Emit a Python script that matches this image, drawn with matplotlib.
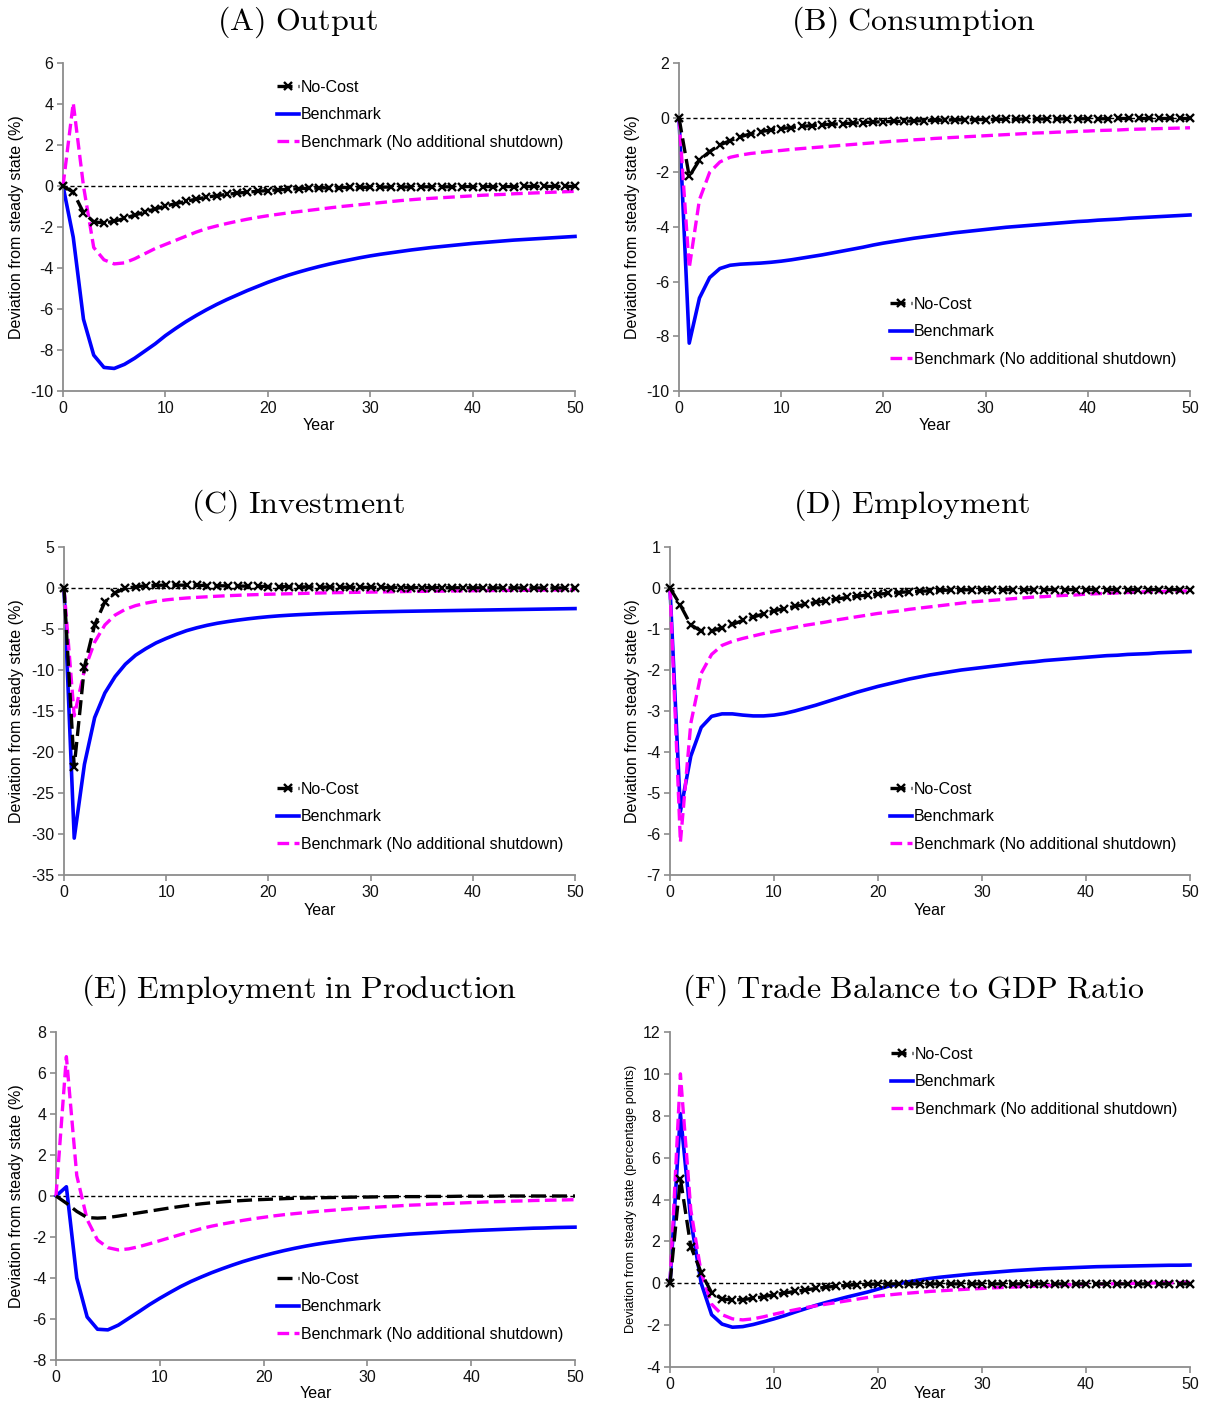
import numpy as np
import matplotlib.pyplot as plt

plt.rcParams['font.family'] = ['Liberation Sans', 'DejaVu Sans']
plt.rcParams['mathtext.fontset'] = 'cm'
plt.rcParams['axes.unicode_minus'] = False

years = list(range(51))

# (A) Output
out_nocost = [0, -0.3, -1.3, -1.75, -1.8, -1.72, -1.58, -1.42, -1.27, -1.12, -0.98, -0.86, -0.75, -0.64, -0.55,
              -0.47, -0.41, -0.35, -0.3, -0.26, -0.22, -0.19, -0.16, -0.13, -0.11, -0.1, -0.09, -0.08, -0.07, -0.07,
              -0.06, -0.06, -0.05, -0.05, -0.05, -0.04, -0.04, -0.04, -0.04, -0.03, -0.03, -0.03, -0.03, -0.03, -0.03,
              -0.02, -0.02, -0.02, -0.02, -0.02, -0.02]
out_bench = [0, -2.5, -6.5, -8.25, -8.85, -8.9, -8.7, -8.4, -8.05, -7.7, -7.3, -6.95, -6.62, -6.32, -6.04,
             -5.78, -5.54, -5.32, -5.1, -4.9, -4.7, -4.52, -4.35, -4.2, -4.06, -3.93, -3.81, -3.7, -3.6, -3.5,
             -3.41, -3.33, -3.26, -3.19, -3.12, -3.06, -3.0, -2.95, -2.9, -2.85, -2.8, -2.76, -2.72, -2.68, -2.64,
             -2.61, -2.58, -2.55, -2.52, -2.49, -2.46]
out_noshut = [0, 4.05, 0.0, -3.0, -3.6, -3.8, -3.75, -3.55, -3.3, -3.05, -2.85, -2.65, -2.45, -2.25, -2.08,
              -1.95, -1.83, -1.72, -1.62, -1.53, -1.45, -1.38, -1.31, -1.25, -1.19, -1.13, -1.07, -1.01, -0.96, -0.91,
              -0.86, -0.81, -0.76, -0.71, -0.67, -0.63, -0.6, -0.57, -0.54, -0.51, -0.48, -0.45, -0.43, -0.41, -0.38,
              -0.36, -0.34, -0.32, -0.3, -0.28, -0.26]

# (B) Consumption
con_nocost = [0, -2.15, -1.55, -1.24, -1.0, -0.84, -0.7, -0.59, -0.51, -0.45, -0.4, -0.36, -0.32, -0.29, -0.26,
              -0.24, -0.22, -0.2, -0.18, -0.16, -0.15, -0.14, -0.13, -0.12, -0.11, -0.1, -0.09, -0.08, -0.08, -0.07,
              -0.07, -0.06, -0.06, -0.06, -0.05, -0.05, -0.05, -0.05, -0.04, -0.04, -0.04, -0.04, -0.04, -0.03, -0.03,
              -0.03, -0.03, -0.03, -0.03, -0.03, -0.03]
con_bench = [0, -8.25, -6.6, -5.85, -5.52, -5.4, -5.36, -5.34, -5.32, -5.29, -5.25, -5.2, -5.14, -5.08, -5.02,
             -4.95, -4.88, -4.81, -4.74, -4.66, -4.59, -4.53, -4.47, -4.41, -4.36, -4.31, -4.26, -4.21, -4.17, -4.13,
             -4.09, -4.05, -4.01, -3.98, -3.95, -3.92, -3.89, -3.86, -3.83, -3.8, -3.78, -3.75, -3.73, -3.71, -3.68,
             -3.66, -3.64, -3.62, -3.6, -3.58, -3.56]
con_noshut = [0, -5.5, -3.0, -2.0, -1.62, -1.45, -1.37, -1.31, -1.27, -1.23, -1.2, -1.16, -1.13, -1.1, -1.07,
              -1.04, -1.01, -0.98, -0.95, -0.92, -0.89, -0.86, -0.84, -0.81, -0.79, -0.76, -0.74, -0.72, -0.7, -0.68,
              -0.66, -0.64, -0.62, -0.6, -0.58, -0.56, -0.55, -0.53, -0.52, -0.5, -0.49, -0.47, -0.46, -0.45, -0.43,
              -0.42, -0.41, -0.4, -0.39, -0.38, -0.37]

# (C) Investment
inv_nocost = [0, -21.8, -9.6, -4.5, -1.7, -0.57, -0.05, 0.15, 0.27, 0.33, 0.35, 0.35, 0.34, 0.32, 0.3,
              0.28, 0.26, 0.24, 0.22, 0.2, 0.18, 0.17, 0.15, 0.14, 0.13, 0.12, 0.11, 0.1, 0.09, 0.08,
              0.08, 0.07, 0.06, 0.06, 0.05, 0.05, 0.04, 0.04, 0.03, 0.03, 0.03, 0.02, 0.02, 0.02, 0.02,
              0.01, 0.01, 0.01, 0.01, 0.01, 0.0]
inv_bench = [0, -30.5, -21.5, -15.8, -12.8, -10.8, -9.3, -8.2, -7.4, -6.7, -6.15, -5.65, -5.2, -4.85, -4.55,
             -4.3, -4.1, -3.92, -3.76, -3.62, -3.5, -3.4, -3.32, -3.25, -3.19, -3.13, -3.08, -3.04, -3.0, -2.96,
             -2.93, -2.9, -2.88, -2.85, -2.83, -2.81, -2.79, -2.77, -2.75, -2.73, -2.71, -2.69, -2.67, -2.65, -2.63,
             -2.61, -2.59, -2.57, -2.55, -2.53, -2.51]
inv_noshut = [0, -15.6, -10.0, -6.6, -4.5, -3.3, -2.6, -2.15, -1.85, -1.62, -1.45, -1.32, -1.22, -1.14, -1.07,
              -1.0, -0.94, -0.89, -0.84, -0.8, -0.76, -0.73, -0.7, -0.67, -0.64, -0.61, -0.58, -0.56, -0.54, -0.52,
              -0.5, -0.48, -0.46, -0.44, -0.42, -0.41, -0.39, -0.38, -0.36, -0.35, -0.33, -0.32, -0.31, -0.3, -0.29,
              -0.28, -0.27, -0.26, -0.25, -0.23, -0.22]

# (D) Employment
emp_nocost = [0, -0.42, -0.9, -1.05, -1.05, -0.97, -0.89, -0.79, -0.71, -0.63, -0.56, -0.5, -0.45, -0.4, -0.35,
              -0.31, -0.27, -0.23, -0.2, -0.17, -0.15, -0.13, -0.11, -0.09, -0.08, -0.07, -0.06, -0.05, -0.05, -0.04,
              -0.04, -0.04, -0.04, -0.04, -0.04, -0.04, -0.04, -0.04, -0.04, -0.04, -0.04, -0.04, -0.04, -0.04, -0.04,
              -0.04, -0.04, -0.04, -0.04, -0.04, -0.04]
emp_bench = [0, -5.45, -4.1, -3.4, -3.13, -3.07, -3.07, -3.1, -3.12, -3.12, -3.1, -3.06, -3.0, -2.93, -2.86,
             -2.78, -2.7, -2.62, -2.54, -2.47, -2.4, -2.34, -2.28, -2.22, -2.17, -2.12, -2.08, -2.04, -2.0, -1.97,
             -1.94, -1.91, -1.88, -1.85, -1.82, -1.8, -1.77, -1.75, -1.73, -1.71, -1.69, -1.67, -1.65, -1.64, -1.62,
             -1.61, -1.6, -1.58, -1.57, -1.56, -1.55]
emp_noshut = [0, -6.2, -3.3, -2.08, -1.62, -1.4, -1.3, -1.23, -1.17, -1.11, -1.06, -1.01, -0.96, -0.91, -0.87,
              -0.83, -0.78, -0.74, -0.7, -0.66, -0.62, -0.59, -0.56, -0.52, -0.49, -0.46, -0.43, -0.4, -0.37, -0.34,
              -0.32, -0.3, -0.28, -0.26, -0.24, -0.22, -0.21, -0.19, -0.18, -0.17, -0.15, -0.14, -0.13, -0.12, -0.11,
              -0.1, -0.09, -0.09, -0.08, -0.08, -0.07]

# (E) Employment in Production
prod_nocost = [0, -0.35, -0.75, -1.05, -1.08, -1.05, -0.98, -0.9, -0.82, -0.74, -0.66, -0.58, -0.51, -0.44, -0.38,
               -0.33, -0.29, -0.25, -0.22, -0.19, -0.17, -0.15, -0.13, -0.11, -0.1, -0.09, -0.08, -0.07, -0.06, -0.05,
               -0.05, -0.04, -0.04, -0.03, -0.03, -0.03, -0.02, -0.02, -0.02, -0.01, -0.01, -0.01, -0.01, 0.0, 0.0,
               0.0, 0.0, 0.0, 0.0, 0.0, 0.0]
prod_bench = [0, 0.45, -4.0, -5.9, -6.5, -6.53, -6.3, -5.97, -5.64, -5.3, -4.99, -4.7, -4.42, -4.17, -3.95,
              -3.74, -3.55, -3.37, -3.2, -3.05, -2.91, -2.78, -2.66, -2.55, -2.45, -2.36, -2.28, -2.21, -2.14, -2.08,
              -2.03, -1.98, -1.94, -1.9, -1.86, -1.83, -1.8, -1.77, -1.74, -1.72, -1.69, -1.67, -1.65, -1.63, -1.61,
              -1.59, -1.57, -1.56, -1.54, -1.53, -1.52]
prod_noshut = [0, 6.8, 1.0, -1.15, -2.15, -2.52, -2.63, -2.58, -2.47, -2.33, -2.18, -2.03, -1.88, -1.73, -1.59,
               -1.47, -1.37, -1.28, -1.19, -1.11, -1.04, -0.97, -0.91, -0.86, -0.81, -0.76, -0.72, -0.68, -0.64, -0.6,
               -0.57, -0.54, -0.51, -0.48, -0.45, -0.43, -0.4, -0.38, -0.36, -0.34, -0.32, -0.3, -0.28, -0.27, -0.25,
               -0.24, -0.22, -0.21, -0.2, -0.19, -0.18]

# (F) Trade balance to GDP ratio
tb_nocost = [0, 5.0, 1.75, 0.5, -0.45, -0.75, -0.8, -0.78, -0.72, -0.64, -0.55, -0.47, -0.39, -0.32, -0.25,
             -0.19, -0.14, -0.1, -0.07, -0.05, -0.04, -0.03, -0.03, -0.03, -0.03, -0.03, -0.03, -0.03, -0.03, -0.03,
             -0.03, -0.03, -0.03, -0.03, -0.03, -0.03, -0.03, -0.03, -0.03, -0.03, -0.03, -0.03, -0.03, -0.03, -0.03,
             -0.03, -0.03, -0.03, -0.03, -0.03, -0.03]
tb_bench = [0, 8.1, 3.0, 0.0, -1.5, -1.95, -2.1, -2.07, -1.97, -1.84, -1.7, -1.55, -1.38, -1.22, -1.06,
            -0.92, -0.79, -0.66, -0.54, -0.42, -0.28, -0.14, -0.02, 0.08, 0.16, 0.23, 0.29, 0.34, 0.39, 0.44,
            0.48, 0.52, 0.56, 0.6, 0.63, 0.66, 0.69, 0.71, 0.73, 0.75, 0.77, 0.79, 0.8, 0.81, 0.82,
            0.83, 0.84, 0.85, 0.86, 0.86, 0.87]
tb_noshut = [0, 10.0, 3.5, 0.5, -1.0, -1.5, -1.7, -1.75, -1.7, -1.6, -1.48, -1.37, -1.27, -1.17, -1.08,
             -1.0, -0.92, -0.84, -0.76, -0.68, -0.61, -0.56, -0.51, -0.47, -0.43, -0.39, -0.36, -0.33, -0.3, -0.27,
             -0.25, -0.22, -0.2, -0.18, -0.16, -0.14, -0.12, -0.1, -0.08, -0.07, -0.05, -0.04, -0.03, -0.02, -0.01,
             0.0, 0.01, 0.02, 0.03, 0.03, 0.04]

titles = ['(A) Output', '(B) Consumption', '(C) Investment', '(D) Employment',
          '(E) Employment in Production', '(F) Trade Balance to GDP Ratio']
ylabels = ['Deviation from steady state (%)'] * 5 + ['Deviation from steady state (percentage points)']
labels = ['No-Cost', 'Benchmark', 'Benchmark (No additional shutdown)']

series = [(out_nocost, out_bench, out_noshut),
          (con_nocost, con_bench, con_noshut),
          (inv_nocost, inv_bench, inv_noshut),
          (emp_nocost, emp_bench, emp_noshut),
          (prod_nocost, prod_bench, prod_noshut),
          (tb_nocost, tb_bench, tb_noshut)]

W, H = 1206, 1403
fig = plt.figure(figsize=(W / 100, H / 100), dpi=100)

# pixel layout: axes box (left, top, right, bottom), y range, tick step,
# title / y-label centres, legend top-left corner, gap from axis to "Year"
panels = [
    dict(box=(63, 63, 575, 391), ylim=(-10, 6), step=2, title=(298, 22), ylab=(17, 227), leg=(277, 80), yr=27, mk=True),
    dict(box=(679, 63, 1190, 391), ylim=(-10, 2), step=2, title=(913, 22), ylab=(633, 227), leg=(890, 297), yr=27, mk=True),
    dict(box=(64, 547, 575, 875), ylim=(-35, 5), step=5, title=(298, 505), ylab=(17, 711), leg=(277, 782), yr=28, mk=True),
    dict(box=(670, 547, 1190, 875), ylim=(-7, 1), step=1, title=(912, 505), ylab=(633, 711), leg=(890, 782), yr=28, mk=True),
    dict(box=(56, 1032, 575, 1360), ylim=(-8, 8), step=2, title=(299, 990), ylab=(17, 1196), leg=(277, 1272), yr=26, mk=False),
    dict(box=(670, 1032, 1190, 1367), ylim=(-4, 12), step=2, title=(913, 990), ylab=(631, 1199), leg=(891, 1047), yr=19, mk=True),
]

grey = '#8c8c8c'
for i, p in enumerate(panels):
    l, t, r, b = p['box']
    ax = fig.add_axes([l / W, 1 - b / H, (r - l) / W, (b - t) / H])
    nocost, bench, noshut = series[i]

    ax.plot([0, 50], [0, 0], color='black', lw=1, ls=(0, (3, 2)), zorder=1)
    if p['mk']:
        h1, = ax.plot(years, nocost, color='black', lw=2.4, ls=(0, (4.5, 1.8)),
                      marker='x', ms=5.5, mew=1.7, clip_on=False, zorder=4)
    else:
        h1, = ax.plot(years, nocost, color='black', lw=2.4, ls=(0, (4.5, 1.8)), clip_on=False, zorder=4)
    h2, = ax.plot(years, bench, color='#0000ff', lw=2.6, clip_on=False, zorder=2)
    h3, = ax.plot(years, noshut, color='#ff00ff', lw=2.4, ls=(0, (3.5, 1.6)), clip_on=False, zorder=3)

    ax.set_xlim(0, 50)
    ax.set_ylim(*p['ylim'])
    ax.set_xticks(range(0, 51, 10))
    ax.set_yticks(np.arange(p['ylim'][0], p['ylim'][1] + 0.1, p['step']))
    for s in ['top', 'right']:
        ax.spines[s].set_visible(False)
    for s in ['left', 'bottom']:
        ax.spines[s].set_color(grey)
        ax.spines[s].set_linewidth(1.3)
    ax.tick_params(direction='out', length=4, width=1.2, color=grey, labelsize=11.5, pad=3, labelcolor='#111111')

    ax.set_xlabel('Year', fontsize=11.5)
    ax.xaxis.set_label_coords(0.5, -p['yr'] / (b - t))

    fig.text(p['ylab'][0] / W, 1 - p['ylab'][1] / H, ylabels[i], rotation=90,
             fontsize=9.2 if i == 5 else 11.5, ha='center', va='center')
    fig.text(p['title'][0] / W, 1 - p['title'][1] / H, r'$\mathrm{' + titles[i].replace(' ', r'\ ') + '}$',
             fontsize=23, ha='center', va='center')

    ax.legend([h1, h2, h3], labels, loc='upper left',
              bbox_to_anchor=(p['leg'][0] / W, 1 - p['leg'][1] / H), bbox_transform=fig.transFigure,
              frameon=False, borderpad=0, borderaxespad=0, handlelength=1.35, handletextpad=0.15,
              labelspacing=0.78, fontsize=11.5, numpoints=1)

fig.savefig('out.png', dpi=100)
